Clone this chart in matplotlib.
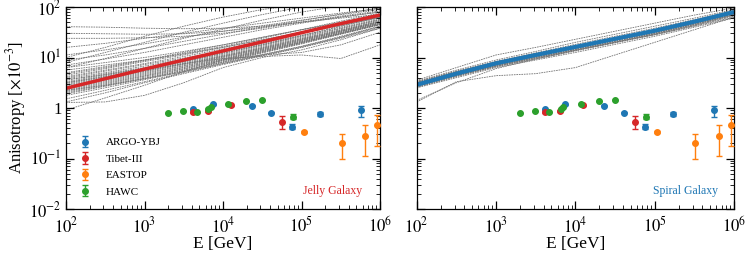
import numpy as np
import matplotlib
matplotlib.use("Agg")
import matplotlib.pyplot as plt
from matplotlib.ticker import LogLocator, FixedLocator, FixedFormatter, NullFormatter

plt.rcParams['font.family'] = ['Liberation Serif', 'DejaVu Serif']
plt.rcParams['mathtext.fontset'] = 'stix'

# ---------------- data ----------------
E_grid = [1e2, 3.16e2, 1e3, 3.16e3, 1e4, 3.16e4, 1e5, 3.16e5, 1e6]

# log10(anisotropy / 1e-3) of model realisations, Jelly Galaxy
jelly_curves = [
    [1.61, 1.60, 1.58, 1.57, 1.58, 1.62, 1.70, 1.78, 1.85],
    [1.48, 1.47, 1.46, 1.47, 1.52, 1.60, 1.70, 1.80, 1.90],
    [1.38, 1.38, 1.39, 1.42, 1.48, 1.58, 1.70, 1.82, 1.92],
    [1.20, 1.28, 1.38, 1.48, 1.58, 1.68, 1.78, 1.88, 1.97],
    [1.05, 1.15, 1.27, 1.40, 1.52, 1.63, 1.74, 1.85, 1.95],
    [0.95, 1.05, 1.18, 1.32, 1.46, 1.60, 1.73, 1.86, 1.98],
    [0.85, 0.97, 1.10, 1.25, 1.40, 1.55, 1.68, 1.80, 1.90],
    [0.80, 0.90, 1.00, 1.12, 1.25, 1.40, 1.55, 1.70, 1.85],
    [0.75, 0.85, 0.95, 1.07, 1.20, 1.35, 1.50, 1.65, 1.80],
    [0.70, 0.82, 0.95, 1.10, 1.25, 1.40, 1.55, 1.68, 1.80],
    [0.65, 0.78, 0.92, 1.05, 1.20, 1.35, 1.50, 1.65, 1.80],
    [0.62, 0.75, 0.88, 1.02, 1.17, 1.32, 1.48, 1.63, 1.78],
    [0.60, 0.73, 0.86, 0.99, 1.13, 1.28, 1.44, 1.60, 1.76],
    [0.58, 0.70, 0.83, 0.97, 1.11, 1.26, 1.42, 1.58, 1.75],
    [0.55, 0.68, 0.80, 0.94, 1.09, 1.24, 1.40, 1.57, 1.74],
    [0.52, 0.66, 0.79, 0.92, 1.06, 1.22, 1.38, 1.55, 1.72],
    [0.50, 0.64, 0.77, 0.90, 1.04, 1.20, 1.37, 1.54, 1.72],
    [0.48, 0.62, 0.75, 0.88, 1.03, 1.19, 1.36, 1.53, 1.71],
    [0.46, 0.60, 0.73, 0.87, 1.02, 1.18, 1.35, 1.52, 1.70],
    [0.44, 0.58, 0.72, 0.86, 1.01, 1.17, 1.34, 1.52, 1.70],
    [0.42, 0.56, 0.70, 0.84, 1.00, 1.16, 1.33, 1.51, 1.69],
    [0.40, 0.54, 0.68, 0.83, 0.98, 1.15, 1.32, 1.50, 1.68],
    [0.38, 0.52, 0.66, 0.81, 0.97, 1.14, 1.31, 1.49, 1.68],
    [0.36, 0.50, 0.64, 0.80, 0.96, 1.13, 1.30, 1.48, 1.67],
    [0.34, 0.48, 0.63, 0.78, 0.95, 1.12, 1.30, 1.48, 1.66],
    [0.32, 0.46, 0.61, 0.77, 0.94, 1.11, 1.29, 1.47, 1.66],
    [0.30, 0.44, 0.59, 0.75, 0.92, 1.10, 1.28, 1.47, 1.65],
    [0.28, 0.43, 0.58, 0.74, 0.91, 1.09, 1.27, 1.46, 1.65],
    [0.35, 0.45, 0.58, 0.72, 0.88, 1.04, 1.20, 1.38, 1.58],
    [0.25, 0.40, 0.56, 0.72, 0.90, 1.06, 1.22, 1.40, 1.60],
    [0.18, 0.35, 0.52, 0.70, 0.88, 1.05, 1.22, 1.42, 1.62],
    [0.12, 0.30, 0.50, 0.68, 0.86, 1.03, 1.20, 1.40, 1.62],
    [0.11, 0.12, 0.25, 0.50, 0.80, 1.00, 1.15, 1.35, 1.58],
    [-0.04, 0.20, 0.45, 0.72, 0.95, 1.05, 1.10, 1.25, 1.50],
    [0.50, 0.62, 0.75, 0.88, 0.98, 1.02, 1.05, 0.98, 1.25],
    [0.90, 1.10, 1.30, 1.50, 1.68, 1.85, 2.00, 2.10, 2.20],
    [0.80, 0.98, 1.18, 1.38, 1.56, 1.74, 1.90, 2.02, 2.10],
    [1.00, 1.20, 1.42, 1.62, 1.80, 1.95, 2.05, 2.10, 2.15],
    [0.68, 0.80, 0.94, 1.08, 1.22, 1.38, 1.55, 1.72, 1.88],
    [0.56, 0.66, 0.78, 0.92, 1.08, 1.25, 1.43, 1.62, 1.80],
]
jelly_mean = [0.39, 0.58, 0.77, 0.95, 1.13, 1.31, 1.49, 1.67, 1.84]

# Spiral Galaxy
spiral_curves = [
    [0.55, 0.80, 1.05, 1.20, 1.36, 1.52, 1.68, 1.84, 1.98],
    [0.53, 0.75, 0.95, 1.12, 1.30, 1.46, 1.62, 1.78, 1.95],
    [0.51, 0.72, 0.92, 1.09, 1.26, 1.42, 1.58, 1.75, 1.93],
    [0.50, 0.71, 0.91, 1.07, 1.23, 1.39, 1.55, 1.73, 1.92],
    [0.49, 0.70, 0.90, 1.06, 1.22, 1.38, 1.54, 1.72, 1.91],
    [0.48, 0.69, 0.89, 1.05, 1.21, 1.37, 1.53, 1.71, 1.90],
    [0.47, 0.68, 0.88, 1.04, 1.20, 1.36, 1.52, 1.70, 1.89],
    [0.46, 0.67, 0.87, 1.03, 1.19, 1.35, 1.51, 1.69, 1.88],
    [0.45, 0.66, 0.86, 1.02, 1.18, 1.34, 1.50, 1.68, 1.87],
    [0.44, 0.65, 0.85, 1.01, 1.17, 1.33, 1.49, 1.67, 1.86],
    [0.43, 0.64, 0.84, 1.00, 1.16, 1.32, 1.48, 1.66, 1.85],
    [0.42, 0.63, 0.83, 0.99, 1.15, 1.31, 1.47, 1.65, 1.84],
    [0.41, 0.62, 0.82, 0.97, 1.13, 1.29, 1.45, 1.63, 1.82],
    [0.40, 0.60, 0.80, 0.95, 1.10, 1.26, 1.42, 1.60, 1.78],
    [0.50, 0.72, 0.90, 1.04, 1.19, 1.35, 1.52, 1.72, 1.93],
    [0.44, 0.67, 0.89, 1.06, 1.22, 1.37, 1.52, 1.69, 1.86],
    [0.47, 0.70, 0.91, 1.07, 1.21, 1.35, 1.50, 1.68, 1.89],
    [0.43, 0.65, 0.86, 1.03, 1.20, 1.37, 1.54, 1.72, 1.91],
    [0.15, 0.50, 0.78, 0.97, 1.14, 1.30, 1.46, 1.64, 1.84],
    [0.12, 0.52, 0.64, 0.68, 0.80, 1.05, 1.30, 1.55, 1.80],
    [0.48, 0.66, 0.84, 1.00, 1.15, 1.30, 1.45, 1.62, 1.80],
    [0.52, 0.73, 0.92, 1.08, 1.23, 1.38, 1.54, 1.71, 1.88],
    [0.45, 0.64, 0.82, 0.98, 1.14, 1.30, 1.47, 1.66, 1.86],
]
spiral_mean = [0.46, 0.68, 0.885, 1.05, 1.21, 1.37, 1.53, 1.71, 1.90]

# experimental data (anisotropy in units of 1e-3)
argo_E = [4100, 7400, 23200, 40700, 76000, 172000, 565000]
argo_A = [0.94, 1.18, 1.11, 0.81, 0.43, 0.77, 0.91]
argo_lo = [0.03, 0.03, 0.03, 0.03, 0.05, 0.06, 0.24]
argo_hi = [0.03, 0.03, 0.03, 0.03, 0.05, 0.06, 0.20]

tibet_E = [4100, 6400, 12500, 56000]
tibet_A = [0.83, 0.87, 1.13, 0.54]
tibet_lo = [0.03, 0.03, 0.03, 0.16]
tibet_hi = [0.03, 0.03, 0.03, 0.17]

eastop_E = [107000, 325000, 650000, 920000]
eastop_A = [0.335, 0.20, 0.28, 0.46]
eastop_lo = [0.02, 0.10, 0.17, 0.28]
eastop_hi = [0.02, 0.10, 0.18, 0.26]

hawc_E = [2000, 3100, 4600, 6500, 7000, 11700, 19600, 31600, 77600]
hawc_A = [0.81, 0.885, 0.82, 0.95, 1.05, 1.18, 1.38, 1.44, 0.67]
hawc_lo = [0, 0, 0, 0, 0, 0, 0, 0, 0.07]
hawc_hi = [0, 0, 0, 0, 0, 0, 0, 0, 0.08]

experiments = [
    ("ARGO-YBJ", argo_E, argo_A, argo_lo, argo_hi, "#1f77b4"),
    ("Tibet-III", tibet_E, tibet_A, tibet_lo, tibet_hi, "#d62728"),
    ("EASTOP", eastop_E, eastop_A, eastop_lo, eastop_hi, "#ff7f0e"),
    ("HAWC", hawc_E, hawc_A, hawc_lo, hawc_hi, "#2ca02c"),
]

ytick_vals = [1e-2, 1e-1, 1, 1e1, 1e2]
ytick_labels = [r"$10^{-2}$", r"$10^{-1}$", "1", r"$10^{1}$", r"$10^{2}$"]
xtick_vals = [1e2, 1e3, 1e4, 1e5, 1e6]
xtick_labels = [r"$10^{2}$", r"$10^{3}$", r"$10^{4}$", r"$10^{5}$", r"$10^{6}$"]

# ---------------- figure ----------------
fig = plt.figure(figsize=(7.47, 2.56), dpi=100)
axL = fig.add_axes([66/747, 1-209/256, 314/747, 202/256])
axR = fig.add_axes([416.7/747, 1-209/256, 317.3/747, 202/256])

def style(ax, show_ylabels):
    ax.set_xscale('log')
    ax.set_yscale('log')
    ax.set_xlim(1e2, 1e6)
    ax.set_ylim(1e-2, 1e2)
    ax.xaxis.set_major_locator(FixedLocator(xtick_vals))
    ax.xaxis.set_major_formatter(FixedFormatter(xtick_labels))
    ax.xaxis.set_minor_locator(LogLocator(base=10, subs=np.arange(2, 10), numticks=20))
    ax.xaxis.set_minor_formatter(NullFormatter())
    ax.yaxis.set_major_locator(FixedLocator(ytick_vals))
    ax.yaxis.set_minor_locator(LogLocator(base=10, subs=np.arange(2, 10), numticks=20))
    ax.yaxis.set_minor_formatter(NullFormatter())
    if show_ylabels:
        ax.yaxis.set_major_formatter(FixedFormatter(ytick_labels))
    else:
        ax.yaxis.set_major_formatter(NullFormatter())
    ax.tick_params(which='both', direction='in', top=True, right=True, labelsize=12)
    ax.tick_params(axis='x', which='major', pad=5)
    ax.tick_params(axis='y', which='major', pad=3)
    ax.tick_params(which='major', length=6, width=0.9)
    ax.tick_params(which='minor', length=3, width=0.6)
    for s in ax.spines.values():
        s.set_linewidth(0.9)
    ax.set_xlabel("E [GeV]", fontsize=12.5, labelpad=0)

def draw(ax, curves, mean, color, lw, label, show_legend):
    for c in curves:
        ax.plot(E_grid, [10**v for v in c], color='0.45', lw=0.6, ls=(0, (2, 1)), zorder=1)
    ax.plot(E_grid, [10**v for v in mean], color=color, lw=lw, zorder=2, solid_capstyle='butt')
    for name, E, A, lo, hi, col in experiments:
        ax.errorbar(E, A, yerr=[lo, hi], fmt='o', color=col, ms=4, elinewidth=1.0,
                    capsize=2, capthick=1.0, label=name, zorder=3)
    ax.text(0.848, 0.089, label, transform=ax.transAxes, color=color, fontsize=8.5,
            ha='center', va='center')
    if show_legend:
        ax.legend(loc='lower left', bbox_to_anchor=(0.0, 0.0), frameon=False, fontsize=8,
                  handletextpad=1.3, labelspacing=0.6, borderaxespad=0.7, handlelength=1.2)

draw(axL, jelly_curves, jelly_mean, "#d62728", 2.5, "Jelly Galaxy", True)
draw(axR, spiral_curves, spiral_mean, "#1f77b4", 3.0, "Spiral Galaxy", False)
style(axL, True)
style(axR, False)
axL.set_ylabel(r"Anisotropy [$\times 10^{-3}$]", fontsize=12, labelpad=1)

fig.savefig("out.png", dpi=100)
